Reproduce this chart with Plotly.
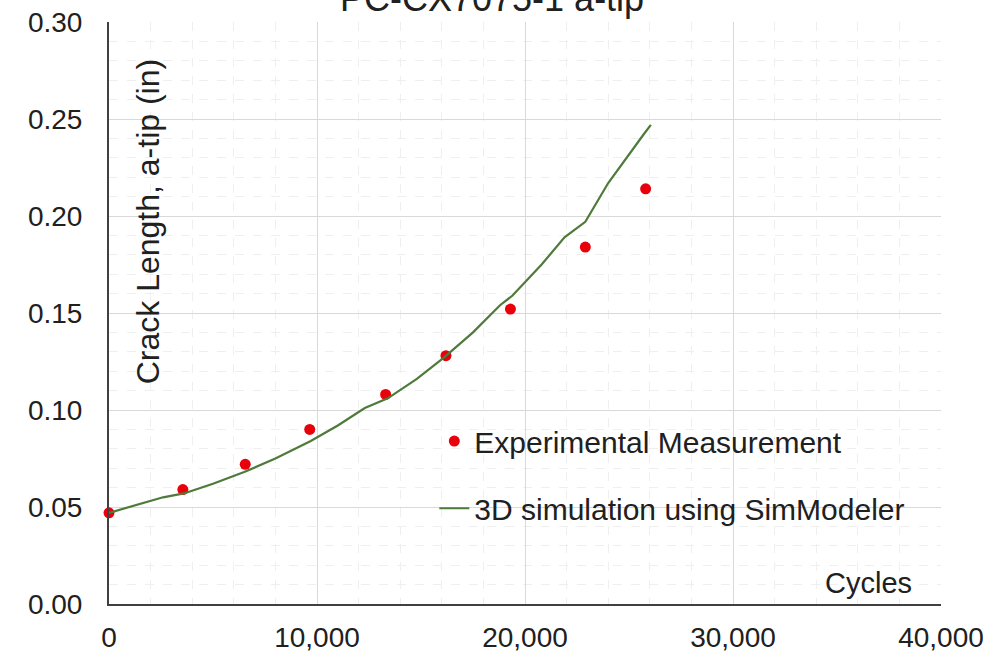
import plotly.graph_objects as go

# Experimental measurement
exp_cycles = [0, 3550, 6550, 9650, 13300, 16200, 19300, 22900, 25800]
exp_crack = [0.047, 0.059, 0.072, 0.090, 0.108, 0.128, 0.152, 0.184, 0.214]

# 3D simulation using SimModeler
sim_cycles = [0, 1300, 2600, 3600, 5000, 6500, 8000, 9700, 11000, 12300, 13400,
              14800, 16100, 17500, 18800, 19400, 20800, 21900, 22900, 24000,
              25000, 25700, 26050]
sim_crack = [0.047, 0.051, 0.055, 0.057, 0.062, 0.068, 0.075, 0.084, 0.092,
             0.101, 0.106, 0.116, 0.127, 0.140, 0.154, 0.159, 0.175, 0.189,
             0.197, 0.217, 0.232, 0.242, 0.247]

x_ticks = [0, 10000, 20000, 30000, 40000]
y_ticks = [0.00, 0.05, 0.10, 0.15, 0.20, 0.25, 0.30]

FONT = "Liberation Sans, Arial, sans-serif"
TXT = "#202020"

fig = go.Figure()
fig.add_trace(go.Scatter(
    x=exp_cycles, y=exp_crack, mode="markers", name="Experimental Measurement",
    marker=dict(color="#E8000B", size=11), legend="legend", showlegend=True,
    cliponaxis=False))
fig.add_trace(go.Scatter(
    x=sim_cycles, y=sim_crack, mode="lines", name="3D simulation using SimModeler",
    line=dict(color="#4E7A3A", width=2.2), legend="legend2", showlegend=True))

fig.update_layout(
    width=1002, height=654,
    margin=dict(l=109, r=61, t=22, b=50, autoexpand=False),
    paper_bgcolor="white", plot_bgcolor="white",
    showlegend=True,
    font=dict(family=FONT, size=28, color=TXT),
    legend=dict(x=0.391, y=0.280, xanchor="left", yanchor="middle",
                bgcolor="rgba(0,0,0,0)", font=dict(family=FONT, size=30, color=TXT)),
    legend2=dict(x=0.391, y=0.1645, xanchor="left", yanchor="middle",
                 bgcolor="rgba(0,0,0,0)", font=dict(family=FONT, size=30, color=TXT)),
)

fig.update_xaxes(
    range=[0, 40000], tickvals=x_ticks, tickformat=",", automargin=False,
    showgrid=True, gridcolor="#D9D9D9", gridwidth=1,
    minor=dict(dtick=2000, showgrid=True, gridcolor="#EFEFEF", griddash="dash", gridwidth=1),
    showline=True, linecolor="#404040", linewidth=2, zeroline=False,
    ticks="", ticklabelstandoff=7, tickfont=dict(family=FONT, size=28, color=TXT))
fig.update_yaxes(
    range=[0, 0.30], tickvals=y_ticks, tickformat=".2f", automargin=False,
    showgrid=True, gridcolor="#D9D9D9", gridwidth=1,
    minor=dict(dtick=0.01, showgrid=True, gridcolor="#EFEFEF", griddash="dash", gridwidth=1),
    showline=True, linecolor="#404040", linewidth=2, zeroline=False,
    ticks="", ticklabelstandoff=19, tickfont=dict(family=FONT, size=28, color=TXT))

# Chart title (partly cut off at the top, as in the reference)
fig.add_annotation(text="PC-CX7075-1 a-tip", xref="paper", yref="paper",
                   x=(492 - 109) / 832, y=1.0396, xanchor="center", yanchor="middle",
                   showarrow=False, font=dict(family=FONT, size=36, color=TXT))
fig.add_annotation(text="Crack Length, a-tip (in)", xref="paper", yref="paper",
                   x=0.047, y=0.656, xanchor="center", yanchor="middle",
                   textangle=-90, showarrow=False,
                   font=dict(family=FONT, size=32, color=TXT))
fig.add_annotation(text="Cycles", xref="paper", yref="paper",
                   x=0.913, y=0.036, xanchor="center", yanchor="middle",
                   showarrow=False, font=dict(family=FONT, size=29, color=TXT))

fig.write_html("out.html")
